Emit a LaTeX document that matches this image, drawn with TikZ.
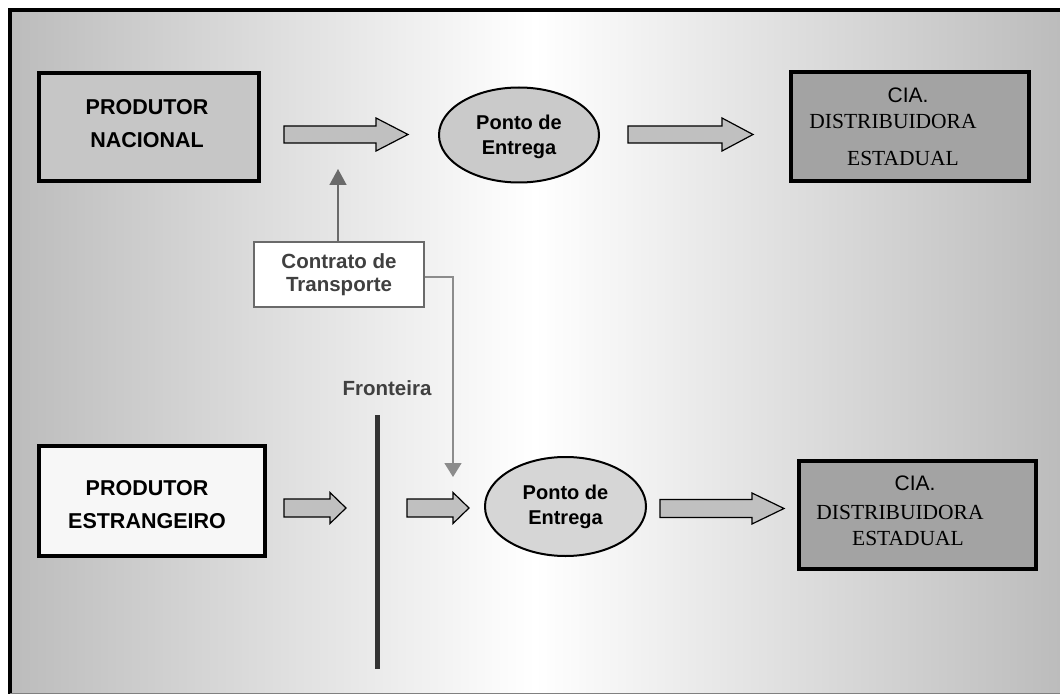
\documentclass[tikz,border=0pt]{standalone}
\usepackage{fontspec}
\setmainfont{Liberation Serif}
\setsansfont{Liberation Sans}
\usetikzlibrary{shapes.geometric,arrows.meta}

\definecolor{sidegray}{HTML}{BCBCBC}
\definecolor{arrowfill}{HTML}{C0C0C0}
\definecolor{natfill}{HTML}{C6C6C6}
\definecolor{forfill}{HTML}{F7F7F7}
\definecolor{ciafill}{HTML}{A3A3A3}
\definecolor{pt1fill}{HTML}{CACACA}
\definecolor{pt2fill}{HTML}{D6D6D6}
\definecolor{contractgray}{HTML}{6A6A6A}
\definecolor{contractline}{HTML}{8C8C8C}
\definecolor{labelgray}{HTML}{404040}
\definecolor{bordergray}{HTML}{333333}

% block arrow: x start, x tip, x where the head starts, y centre, shaft half height, head half height
\newcommand\flowarrow[6]{%
  \draw[flowarr] (#1,#4-#5) -- (#3,#4-#5) -- (#3,#4-#6) -- (#2,#4)
    -- (#3,#4+#6) -- (#3,#4+#5) -- (#1,#4+#5) -- cycle;}

\tikzset{
  flowarr/.style={fill=arrowfill, draw=black, line width=1.2pt, line join=miter},
  thickbox/.style={draw=black, line width=4pt, rectangle, inner sep=0pt},
  boldtxt/.style={font=\sffamily\bfseries\fontsize{21.5}{33}\selectfont, align=center, inner sep=0pt},
  pointtxt/.style={font=\sffamily\bfseries\fontsize{20}{24.5}\selectfont, align=center},
  serifline/.style={font=\rmfamily\fontsize{21.5}{24}\selectfont, inner sep=0pt},
  ciahead/.style={font=\sffamily\fontsize{21}{24}\selectfont, inner sep=0pt},
  pointell/.style={ellipse, draw=black, line width=2pt, inner sep=0pt,
    minimum width=160pt, minimum height=95pt},
}

\begin{document}
\begin{tikzpicture}[x=1pt,y=-1pt]
\useasboundingbox (0,0) rectangle (1060,695);

% background panel with horizontal shading
\shade[left color=sidegray, right color=sidegray, middle color=white]
  (10,10) rectangle (1060,693);
\draw[line width=4pt] (1062,10.5) -- (9.5,10.5) -- (9.5,694);
\draw[gray, line width=1pt] (9.5,693.5) -- (1062,693.5);

% upper chain: national producer
\node[thickbox, fill=natfill, minimum width=220pt, minimum height=108pt] (nat) at (149,127) {};
\node[boldtxt] (nattxt) at (147,123.5) {PRODUTOR\\NACIONAL};
\node[pointell, fill=pt1fill] (pt1) at (519,135) {};
\node[pointtxt] (pt1txt) at (519,137) {Ponto de\\Entrega};
\node[thickbox, fill=ciafill, minimum width=238pt, minimum height=109pt] (cia1) at (910,126.5) {};
\node[ciahead] (cia1a) at (908,95) {CIA.};
\node[serifline] (cia1b) at (893,121) {DISTRIBUIDORA};
\node[serifline] (cia1c) at (903,158) {ESTADUAL};

\flowarrow{284}{408}{376}{134.5}{8.5}{16.5}
\flowarrow{628}{753}{722}{134.5}{8.5}{16.5}

% transport contract
\node[draw=contractgray, line width=1.5pt, fill=white, minimum width=170pt, minimum height=65pt,
      font=\sffamily\bfseries\fontsize{20.5}{23}\selectfont, text=labelgray, align=center,
      inner sep=0pt] (ct) at (339,274.5) {Contrato de\\Transporte};
\coordinate (up) at (338,169);
\coordinate (turn) at (453,277);
\coordinate (down) at (453,477);
\draw[contractgray, line width=1.5pt, -{Triangle[length=16pt,width=17pt]}]
  (ct.north -| up) -- (up);
\draw[contractline, line width=1.5pt, -{Triangle[length=14pt,width=17pt]}]
  (ct.east |- turn) -- (turn) -- (down);

% border
\node[font=\sffamily\bfseries\fontsize{20.5}{24}\selectfont, text=labelgray] (front) at (387,388) {Fronteira};
\coordinate (btop) at (377,415);
\coordinate (bbot) at (377,669);
\draw[bordergray, line width=5pt] (btop) -- (bbot);

% lower chain: foreign producer
\node[thickbox, fill=forfill, minimum width=226pt, minimum height=110pt] (for) at (152,501) {};
\node[boldtxt] (fortxt) at (147,505) {PRODUTOR\\ESTRANGEIRO};
\node[pointell, fill=pt2fill, minimum width=161pt, minimum height=99pt] (pt2) at (565.5,506.5) {};
\node[pointtxt] (pt2txt) at (565.5,507) {Ponto de\\Entrega};
\node[thickbox, fill=ciafill, minimum width=237pt, minimum height=108pt] (cia2) at (917.5,515) {};
\node[ciahead] (cia2a) at (915,483) {CIA.};
\node[serifline] (cia2b) at (900,512) {DISTRIBUIDORA};
\node[serifline] (cia2c) at (908,538) {ESTADUAL};

\flowarrow{284}{346}{330}{508}{9}{15.5}
\flowarrow{407}{469}{453}{508}{9}{15.5}
\flowarrow{660}{784}{752}{508.5}{9}{15.5}
\end{tikzpicture}
\end{document}
